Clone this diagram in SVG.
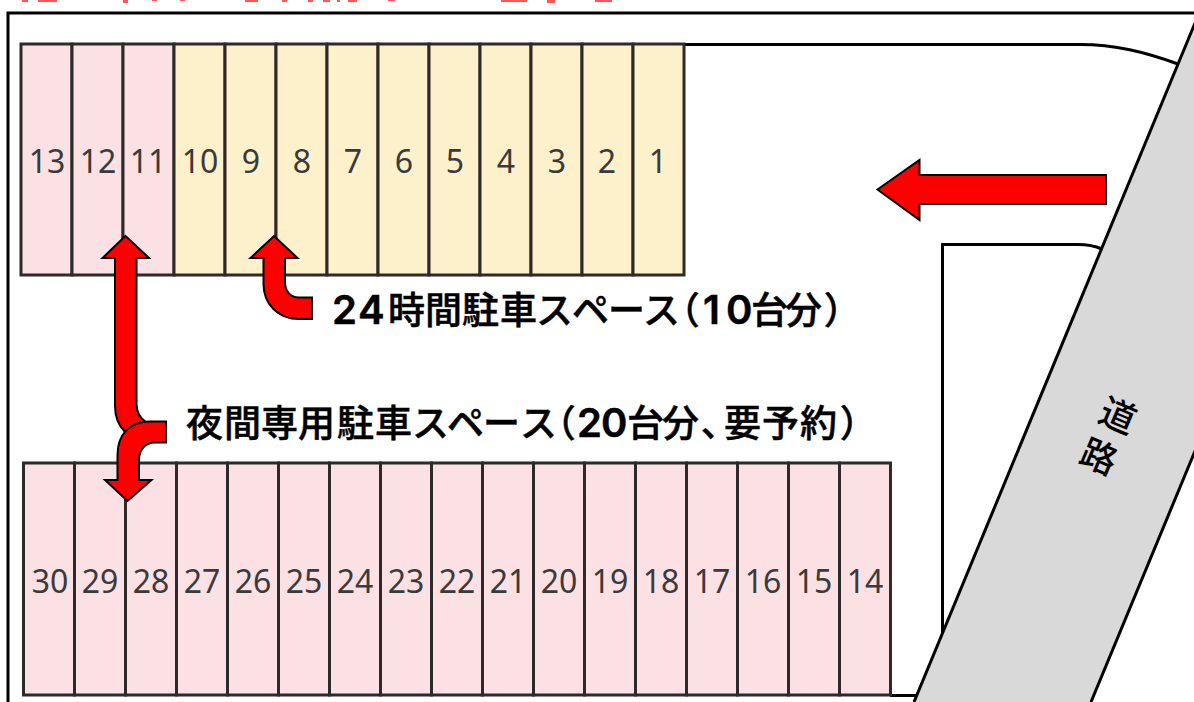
<svg xmlns="http://www.w3.org/2000/svg" width="1194" height="702" viewBox="0 0 1194 702">
<style>
.p{fill:#fbe0e4;stroke:#2e2a2a;stroke-width:3}
.y{fill:#fdf1cb;stroke:#2e2a2a;stroke-width:3}
.n{font-family:"Noto Sans",sans-serif;font-size:32px;font-weight:400;fill:#3a3a3a;text-anchor:middle}
.l{font-family:"Noto Sans CJK JP",sans-serif;font-size:37px;font-weight:500;fill:#000;stroke:#000;stroke-width:.5}
.d{font-family:"Inter","Noto Sans",sans-serif;font-size:40px;font-weight:600}
.q{font-feature-settings:"palt"}
.r{font-family:"Noto Sans CJK JP",sans-serif;font-size:36px;font-weight:500;fill:#000;text-anchor:middle;dominant-baseline:central}
.w{fill:none;stroke:#000;stroke-width:3}
.a{fill:#f00;stroke:#000;stroke-width:2;stroke-linejoin:miter}
.s{fill:#f55}
</style>
<rect width="1194" height="702" fill="#fff"/>
<g id="cut-off-heading">
<rect class="s" x="22" y="0" width="6" height="2"/><rect class="s" x="38" y="0" width="19" height="2"/><rect class="s" x="123" y="0" width="5" height="3"/><rect class="s" x="152" y="0" width="5" height="1"/><rect class="s" x="180" y="0" width="5" height="1"/><rect class="s" x="245" y="0" width="13" height="2"/><rect class="s" x="282" y="0" width="5" height="2"/><rect class="s" x="308" y="0" width="5" height="2"/><rect class="s" x="323" y="0" width="7" height="2"/><rect class="s" x="337" y="0" width="3" height="2"/><rect class="s" x="348" y="0" width="9" height="2"/><rect class="s" x="388" y="0" width="7" height="1"/><rect class="s" x="501" y="0" width="26" height="2"/><rect class="s" x="547" y="0" width="8" height="3"/><rect class="s" x="595" y="0" width="17" height="2"/>
</g>
<g id="site-outline">
<path class="w" d="M1194 13H8V702"/>
<path class="w" d="M684 44.500H1080C1115 44.500 1145 52 1178 64"/>
<path class="w" d="M942.500 640V244.500H1078C1088 244.500 1095 246 1102 249"/>
<path class="w" d="M890 695.500H920"/>
</g>
<g id="road">
<polygon points="1194,25 913,702 1091,702 1194,453" fill="#d9d9d9"/>
<path class="w" d="M1195 23L914 702"/>
<path class="w" d="M1195 451L1091 702"/>
<g id="road-label"><text class="r" transform="translate(1119 413) rotate(23)">道</text><text class="r" transform="translate(1100 454) rotate(23)">路</text></g>
</g>
<g id="space-13"><rect class="p" x="21" y="44" width="51" height="231"/><text class="n" x="47" y="173">13</text></g>
<g id="space-12"><rect class="p" x="72" y="44" width="51" height="231"/><text class="n" x="98" y="173">12</text></g>
<g id="space-11"><rect class="p" x="123" y="44" width="51" height="231"/><text class="n" x="148" y="173">11</text></g>
<g id="space-10"><rect class="y" x="174" y="44" width="51" height="231"/><text class="n" x="200" y="173">10</text></g>
<g id="space-9"><rect class="y" x="225" y="44" width="51" height="231"/><text class="n" x="251" y="173">9</text></g>
<g id="space-8"><rect class="y" x="276" y="44" width="51" height="231"/><text class="n" x="302" y="173">8</text></g>
<g id="space-7"><rect class="y" x="327" y="44" width="51" height="231"/><text class="n" x="353" y="173">7</text></g>
<g id="space-6"><rect class="y" x="378" y="44" width="51" height="231"/><text class="n" x="404" y="173">6</text></g>
<g id="space-5"><rect class="y" x="429" y="44" width="51" height="231"/><text class="n" x="455" y="173">5</text></g>
<g id="space-4"><rect class="y" x="480" y="44" width="51" height="231"/><text class="n" x="506" y="173">4</text></g>
<g id="space-3"><rect class="y" x="531" y="44" width="51" height="231"/><text class="n" x="557" y="173">3</text></g>
<g id="space-2"><rect class="y" x="582" y="44" width="51" height="231"/><text class="n" x="607" y="173">2</text></g>
<g id="space-1"><rect class="y" x="633" y="44" width="51" height="231"/><text class="n" x="658" y="173">1</text></g>
<g id="space-30"><rect class="p" x="23.500" y="463" width="51" height="232"/><text class="n" x="50" y="593">30</text></g>
<g id="space-29"><rect class="p" x="74.500" y="463" width="51" height="232"/><text class="n" x="100" y="593">29</text></g>
<g id="space-28"><rect class="p" x="125.500" y="463" width="51" height="232"/><text class="n" x="151" y="593">28</text></g>
<g id="space-27"><rect class="p" x="176.500" y="463" width="51" height="232"/><text class="n" x="202" y="593">27</text></g>
<g id="space-26"><rect class="p" x="227.500" y="463" width="51" height="232"/><text class="n" x="253" y="593">26</text></g>
<g id="space-25"><rect class="p" x="278.500" y="463" width="51" height="232"/><text class="n" x="304" y="593">25</text></g>
<g id="space-24"><rect class="p" x="329.500" y="463" width="51" height="232"/><text class="n" x="355" y="593">24</text></g>
<g id="space-23"><rect class="p" x="380.500" y="463" width="51" height="232"/><text class="n" x="406" y="593">23</text></g>
<g id="space-22"><rect class="p" x="431.500" y="463" width="51" height="232"/><text class="n" x="457" y="593">22</text></g>
<g id="space-21"><rect class="p" x="482.500" y="463" width="51" height="232"/><text class="n" x="508" y="593">21</text></g>
<g id="space-20"><rect class="p" x="533.500" y="463" width="51" height="232"/><text class="n" x="559" y="593">20</text></g>
<g id="space-19"><rect class="p" x="584.500" y="463" width="51" height="232"/><text class="n" x="610" y="593">19</text></g>
<g id="space-18"><rect class="p" x="635.500" y="463" width="51" height="232"/><text class="n" x="661" y="593">18</text></g>
<g id="space-17"><rect class="p" x="686.500" y="463" width="51" height="232"/><text class="n" x="712" y="593">17</text></g>
<g id="space-16"><rect class="p" x="737.500" y="463" width="51" height="232"/><text class="n" x="763" y="593">16</text></g>
<g id="space-15"><rect class="p" x="788.500" y="463" width="51" height="232"/><text class="n" x="814" y="593">15</text></g>
<g id="space-14"><rect class="p" x="839.500" y="463" width="51" height="232"/><text class="n" x="865" y="593">14</text></g>
<g id="connectors">
<path class="a" d="M877.500 189.500L919.500 160V175H1106V204H919.500V220Z"/>
<path class="a" d="M274 236L297.500 258H285V282C285 291 290 297.500 299 297.500H312V319H299C278 319 263.500 304 263.500 284V258H250.500Z"/>
<path class="a" d="M125.500 236L149 258H136.500V404C136.500 412 140 418 146 422L125 432C119 426 115 417 115 406V258H102.500Z"/>
<path class="a" d="M166 421.500V442.500H155C145 442.500 139 450 139 460V480H151.500L127.500 501L105 480H117.500V455C117.500 434 130 421.500 150 421.500Z"/>
</g>
<g id="label-24h"><text class="l" y="324"><tspan class="d" x="332 358">24</tspan><tspan x="388 425 462 500 536 572 608 643">時間駐車スペース</tspan><tspan class="q" x="680">（</tspan><tspan class="d" x="703 726">10</tspan><tspan x="751 785">台分</tspan><tspan class="q" x="825">）</tspan></text></g>
<g id="label-night"><text class="l" y="437"><tspan x="186 224 261 298 337 375 412 447 483 520">夜間専用駐車スペース</tspan><tspan class="q" x="556">（</tspan><tspan class="d" x="577 601">20</tspan><tspan x="627 662">台分</tspan><tspan class="q" x="701">、</tspan><tspan x="724 762 800">要予約</tspan><tspan class="q" x="841">）</tspan></text></g>
</svg>
